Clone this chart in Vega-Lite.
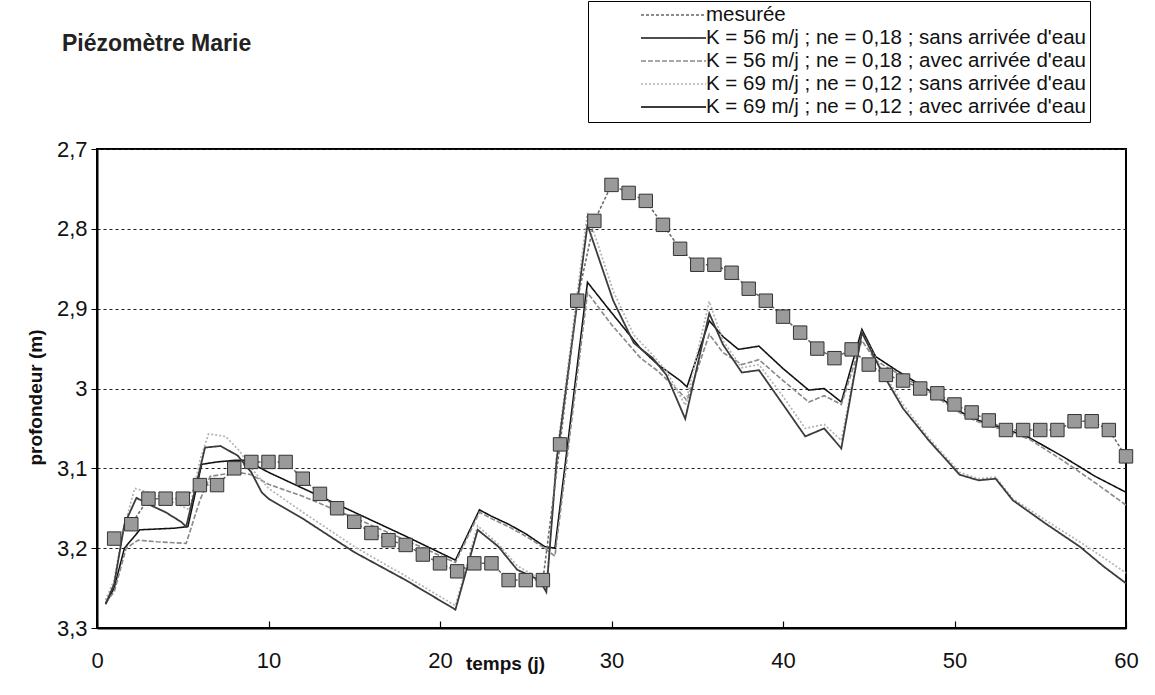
{
  "$schema": "https://vega.github.io/schema/vega-lite/v6.json",
  "width": 1029,
  "height": 479,
  "autosize": "none",
  "padding": {"left": 97, "top": 149, "right": 29, "bottom": 67},
  "background": "white",
  "title": {"text": "Piézomètre Marie", "anchor": "start", "frame": "group", "dx": -35, "offset": 0, "dy": 66, "fontSize": 23, "font": "Liberation Sans", "fontWeight": "bold", "color": "#222", "baseline": "middle"},
  "config": {"view": {"stroke": "black", "strokeWidth": 2}, "font": "Liberation Sans"},
  "datasets": {
    "mesure": [
      {"serie": "mesurée", "jour": 1, "prof": 3.188}, {"serie": "mesurée", "jour": 2, "prof": 3.17}, {"serie": "mesurée", "jour": 3, "prof": 3.138}, {"serie": "mesurée", "jour": 4, "prof": 3.138}, {"serie": "mesurée", "jour": 5, "prof": 3.138},
      {"serie": "mesurée", "jour": 6, "prof": 3.121}, {"serie": "mesurée", "jour": 7, "prof": 3.121}, {"serie": "mesurée", "jour": 8, "prof": 3.1}, {"serie": "mesurée", "jour": 9, "prof": 3.092}, {"serie": "mesurée", "jour": 10, "prof": 3.092},
      {"serie": "mesurée", "jour": 11, "prof": 3.092}, {"serie": "mesurée", "jour": 12, "prof": 3.113}, {"serie": "mesurée", "jour": 13, "prof": 3.132}, {"serie": "mesurée", "jour": 14, "prof": 3.15}, {"serie": "mesurée", "jour": 15, "prof": 3.167},
      {"serie": "mesurée", "jour": 16, "prof": 3.181}, {"serie": "mesurée", "jour": 17, "prof": 3.19}, {"serie": "mesurée", "jour": 18, "prof": 3.196}, {"serie": "mesurée", "jour": 19, "prof": 3.208}, {"serie": "mesurée", "jour": 20, "prof": 3.219},
      {"serie": "mesurée", "jour": 21, "prof": 3.229}, {"serie": "mesurée", "jour": 22, "prof": 3.219}, {"serie": "mesurée", "jour": 23, "prof": 3.219}, {"serie": "mesurée", "jour": 24, "prof": 3.24}, {"serie": "mesurée", "jour": 25, "prof": 3.24},
      {"serie": "mesurée", "jour": 26, "prof": 3.24}, {"serie": "mesurée", "jour": 27, "prof": 3.07}, {"serie": "mesurée", "jour": 28, "prof": 2.89}, {"serie": "mesurée", "jour": 29, "prof": 2.79}, {"serie": "mesurée", "jour": 30, "prof": 2.745},
      {"serie": "mesurée", "jour": 31, "prof": 2.755}, {"serie": "mesurée", "jour": 32, "prof": 2.765}, {"serie": "mesurée", "jour": 33, "prof": 2.795}, {"serie": "mesurée", "jour": 34, "prof": 2.825}, {"serie": "mesurée", "jour": 35, "prof": 2.845},
      {"serie": "mesurée", "jour": 36, "prof": 2.845}, {"serie": "mesurée", "jour": 37, "prof": 2.855}, {"serie": "mesurée", "jour": 38, "prof": 2.875}, {"serie": "mesurée", "jour": 39, "prof": 2.89}, {"serie": "mesurée", "jour": 40, "prof": 2.91},
      {"serie": "mesurée", "jour": 41, "prof": 2.93}, {"serie": "mesurée", "jour": 42, "prof": 2.95}, {"serie": "mesurée", "jour": 43, "prof": 2.962}, {"serie": "mesurée", "jour": 44, "prof": 2.951}, {"serie": "mesurée", "jour": 45, "prof": 2.97},
      {"serie": "mesurée", "jour": 46, "prof": 2.983}, {"serie": "mesurée", "jour": 47, "prof": 2.99}, {"serie": "mesurée", "jour": 48, "prof": 3.0}, {"serie": "mesurée", "jour": 49, "prof": 3.006}, {"serie": "mesurée", "jour": 50, "prof": 3.02},
      {"serie": "mesurée", "jour": 51, "prof": 3.03}, {"serie": "mesurée", "jour": 52, "prof": 3.04}, {"serie": "mesurée", "jour": 53, "prof": 3.052}, {"serie": "mesurée", "jour": 54, "prof": 3.052}, {"serie": "mesurée", "jour": 55, "prof": 3.052},
      {"serie": "mesurée", "jour": 56, "prof": 3.052}, {"serie": "mesurée", "jour": 57, "prof": 3.041}, {"serie": "mesurée", "jour": 58, "prof": 3.041}, {"serie": "mesurée", "jour": 59, "prof": 3.052}, {"serie": "mesurée", "jour": 60, "prof": 3.085}
    ],
    "modeles": [
      {"serie": "K = 56 m/j ; ne = 0,18 ; sans arrivée d'eau", "jour": 0.5, "prof": 3.27}, {"serie": "K = 56 m/j ; ne = 0,18 ; sans arrivée d'eau", "jour": 1, "prof": 3.25}, {"serie": "K = 56 m/j ; ne = 0,18 ; sans arrivée d'eau", "jour": 1.6, "prof": 3.2}, {"serie": "K = 56 m/j ; ne = 0,18 ; sans arrivée d'eau", "jour": 2.5, "prof": 3.177}, {"serie": "K = 56 m/j ; ne = 0,18 ; sans arrivée d'eau", "jour": 3.5, "prof": 3.176}, {"serie": "K = 56 m/j ; ne = 0,18 ; sans arrivée d'eau", "jour": 4.5, "prof": 3.175}, {"serie": "K = 56 m/j ; ne = 0,18 ; sans arrivée d'eau", "jour": 5.3, "prof": 3.173}, {"serie": "K = 56 m/j ; ne = 0,18 ; sans arrivée d'eau", "jour": 6.1, "prof": 3.095}, {"serie": "K = 56 m/j ; ne = 0,18 ; sans arrivée d'eau", "jour": 7, "prof": 3.092}, {"serie": "K = 56 m/j ; ne = 0,18 ; sans arrivée d'eau", "jour": 8, "prof": 3.09}, {"serie": "K = 56 m/j ; ne = 0,18 ; sans arrivée d'eau", "jour": 8.7, "prof": 3.09}, {"serie": "K = 56 m/j ; ne = 0,18 ; sans arrivée d'eau", "jour": 10, "prof": 3.105}, {"serie": "K = 56 m/j ; ne = 0,18 ; sans arrivée d'eau", "jour": 12, "prof": 3.125}, {"serie": "K = 56 m/j ; ne = 0,18 ; sans arrivée d'eau", "jour": 15, "prof": 3.155}, {"serie": "K = 56 m/j ; ne = 0,18 ; sans arrivée d'eau", "jour": 18, "prof": 3.185}, {"serie": "K = 56 m/j ; ne = 0,18 ; sans arrivée d'eau", "jour": 20.9, "prof": 3.215}, {"serie": "K = 56 m/j ; ne = 0,18 ; sans arrivée d'eau", "jour": 22.3, "prof": 3.152}, {"serie": "K = 56 m/j ; ne = 0,18 ; sans arrivée d'eau", "jour": 23, "prof": 3.16}, {"serie": "K = 56 m/j ; ne = 0,18 ; sans arrivée d'eau", "jour": 24, "prof": 3.17}, {"serie": "K = 56 m/j ; ne = 0,18 ; sans arrivée d'eau", "jour": 25, "prof": 3.182}, {"serie": "K = 56 m/j ; ne = 0,18 ; sans arrivée d'eau", "jour": 26.1, "prof": 3.198}, {"serie": "K = 56 m/j ; ne = 0,18 ; sans arrivée d'eau", "jour": 26.7, "prof": 3.2}, {"serie": "K = 56 m/j ; ne = 0,18 ; sans arrivée d'eau", "jour": 28.6, "prof": 2.867}, {"serie": "K = 56 m/j ; ne = 0,18 ; sans arrivée d'eau", "jour": 30, "prof": 2.905}, {"serie": "K = 56 m/j ; ne = 0,18 ; sans arrivée d'eau", "jour": 31.7, "prof": 2.95}, {"serie": "K = 56 m/j ; ne = 0,18 ; sans arrivée d'eau", "jour": 32.7, "prof": 2.97}, {"serie": "K = 56 m/j ; ne = 0,18 ; sans arrivée d'eau", "jour": 34, "prof": 2.99}, {"serie": "K = 56 m/j ; ne = 0,18 ; sans arrivée d'eau", "jour": 34.4, "prof": 2.998}, {"serie": "K = 56 m/j ; ne = 0,18 ; sans arrivée d'eau", "jour": 35.7, "prof": 2.915}, {"serie": "K = 56 m/j ; ne = 0,18 ; sans arrivée d'eau", "jour": 36.5, "prof": 2.935}, {"serie": "K = 56 m/j ; ne = 0,18 ; sans arrivée d'eau", "jour": 37.4, "prof": 2.951}, {"serie": "K = 56 m/j ; ne = 0,18 ; sans arrivée d'eau", "jour": 38.6, "prof": 2.947}, {"serie": "K = 56 m/j ; ne = 0,18 ; sans arrivée d'eau", "jour": 40, "prof": 2.975}, {"serie": "K = 56 m/j ; ne = 0,18 ; sans arrivée d'eau", "jour": 41.5, "prof": 3.002}, {"serie": "K = 56 m/j ; ne = 0,18 ; sans arrivée d'eau", "jour": 42.4, "prof": 3.0}, {"serie": "K = 56 m/j ; ne = 0,18 ; sans arrivée d'eau", "jour": 43.4, "prof": 3.017}, {"serie": "K = 56 m/j ; ne = 0,18 ; sans arrivée d'eau", "jour": 44.6, "prof": 2.926}, {"serie": "K = 56 m/j ; ne = 0,18 ; sans arrivée d'eau", "jour": 45.4, "prof": 2.96}, {"serie": "K = 56 m/j ; ne = 0,18 ; sans arrivée d'eau", "jour": 46.6, "prof": 2.977}, {"serie": "K = 56 m/j ; ne = 0,18 ; sans arrivée d'eau", "jour": 48.5, "prof": 3.002}, {"serie": "K = 56 m/j ; ne = 0,18 ; sans arrivée d'eau", "jour": 50.5, "prof": 3.031}, {"serie": "K = 56 m/j ; ne = 0,18 ; sans arrivée d'eau", "jour": 51.4, "prof": 3.04}, {"serie": "K = 56 m/j ; ne = 0,18 ; sans arrivée d'eau", "jour": 53.4, "prof": 3.054}, {"serie": "K = 56 m/j ; ne = 0,18 ; sans arrivée d'eau", "jour": 54.4, "prof": 3.062}, {"serie": "K = 56 m/j ; ne = 0,18 ; sans arrivée d'eau", "jour": 56.3, "prof": 3.085}, {"serie": "K = 56 m/j ; ne = 0,18 ; sans arrivée d'eau", "jour": 58.2, "prof": 3.11}, {"serie": "K = 56 m/j ; ne = 0,18 ; sans arrivée d'eau", "jour": 60, "prof": 3.13},

      {"serie": "K = 56 m/j ; ne = 0,18 ; avec arrivée d'eau", "jour": 0.5, "prof": 3.268}, {"serie": "K = 56 m/j ; ne = 0,18 ; avec arrivée d'eau", "jour": 1, "prof": 3.255}, {"serie": "K = 56 m/j ; ne = 0,18 ; avec arrivée d'eau", "jour": 1.7, "prof": 3.2}, {"serie": "K = 56 m/j ; ne = 0,18 ; avec arrivée d'eau", "jour": 2.4, "prof": 3.19}, {"serie": "K = 56 m/j ; ne = 0,18 ; avec arrivée d'eau", "jour": 3.5, "prof": 3.192}, {"serie": "K = 56 m/j ; ne = 0,18 ; avec arrivée d'eau", "jour": 5.2, "prof": 3.194}, {"serie": "K = 56 m/j ; ne = 0,18 ; avec arrivée d'eau", "jour": 6, "prof": 3.14}, {"serie": "K = 56 m/j ; ne = 0,18 ; avec arrivée d'eau", "jour": 6.6, "prof": 3.11}, {"serie": "K = 56 m/j ; ne = 0,18 ; avec arrivée d'eau", "jour": 7.5, "prof": 3.107}, {"serie": "K = 56 m/j ; ne = 0,18 ; avec arrivée d'eau", "jour": 8.2, "prof": 3.105}, {"serie": "K = 56 m/j ; ne = 0,18 ; avec arrivée d'eau", "jour": 9, "prof": 3.108}, {"serie": "K = 56 m/j ; ne = 0,18 ; avec arrivée d'eau", "jour": 10, "prof": 3.12}, {"serie": "K = 56 m/j ; ne = 0,18 ; avec arrivée d'eau", "jour": 12, "prof": 3.135}, {"serie": "K = 56 m/j ; ne = 0,18 ; avec arrivée d'eau", "jour": 15, "prof": 3.162}, {"serie": "K = 56 m/j ; ne = 0,18 ; avec arrivée d'eau", "jour": 18, "prof": 3.19}, {"serie": "K = 56 m/j ; ne = 0,18 ; avec arrivée d'eau", "jour": 20.9, "prof": 3.218}, {"serie": "K = 56 m/j ; ne = 0,18 ; avec arrivée d'eau", "jour": 22.3, "prof": 3.155}, {"serie": "K = 56 m/j ; ne = 0,18 ; avec arrivée d'eau", "jour": 23, "prof": 3.163}, {"serie": "K = 56 m/j ; ne = 0,18 ; avec arrivée d'eau", "jour": 24, "prof": 3.173}, {"serie": "K = 56 m/j ; ne = 0,18 ; avec arrivée d'eau", "jour": 25, "prof": 3.185}, {"serie": "K = 56 m/j ; ne = 0,18 ; avec arrivée d'eau", "jour": 26.1, "prof": 3.2}, {"serie": "K = 56 m/j ; ne = 0,18 ; avec arrivée d'eau", "jour": 26.7, "prof": 3.21}, {"serie": "K = 56 m/j ; ne = 0,18 ; avec arrivée d'eau", "jour": 28.6, "prof": 2.88}, {"serie": "K = 56 m/j ; ne = 0,18 ; avec arrivée d'eau", "jour": 30, "prof": 2.92}, {"serie": "K = 56 m/j ; ne = 0,18 ; avec arrivée d'eau", "jour": 31.7, "prof": 2.962}, {"serie": "K = 56 m/j ; ne = 0,18 ; avec arrivée d'eau", "jour": 32.7, "prof": 2.978}, {"serie": "K = 56 m/j ; ne = 0,18 ; avec arrivée d'eau", "jour": 34, "prof": 3.005}, {"serie": "K = 56 m/j ; ne = 0,18 ; avec arrivée d'eau", "jour": 34.4, "prof": 3.015}, {"serie": "K = 56 m/j ; ne = 0,18 ; avec arrivée d'eau", "jour": 35.7, "prof": 2.932}, {"serie": "K = 56 m/j ; ne = 0,18 ; avec arrivée d'eau", "jour": 36.5, "prof": 2.955}, {"serie": "K = 56 m/j ; ne = 0,18 ; avec arrivée d'eau", "jour": 37.6, "prof": 2.97}, {"serie": "K = 56 m/j ; ne = 0,18 ; avec arrivée d'eau", "jour": 38.6, "prof": 2.964}, {"serie": "K = 56 m/j ; ne = 0,18 ; avec arrivée d'eau", "jour": 40, "prof": 2.99}, {"serie": "K = 56 m/j ; ne = 0,18 ; avec arrivée d'eau", "jour": 41.5, "prof": 3.017}, {"serie": "K = 56 m/j ; ne = 0,18 ; avec arrivée d'eau", "jour": 42.4, "prof": 3.009}, {"serie": "K = 56 m/j ; ne = 0,18 ; avec arrivée d'eau", "jour": 43.4, "prof": 3.02}, {"serie": "K = 56 m/j ; ne = 0,18 ; avec arrivée d'eau", "jour": 44.6, "prof": 2.94}, {"serie": "K = 56 m/j ; ne = 0,18 ; avec arrivée d'eau", "jour": 45.4, "prof": 2.965}, {"serie": "K = 56 m/j ; ne = 0,18 ; avec arrivée d'eau", "jour": 46.6, "prof": 2.98}, {"serie": "K = 56 m/j ; ne = 0,18 ; avec arrivée d'eau", "jour": 48.5, "prof": 3.004}, {"serie": "K = 56 m/j ; ne = 0,18 ; avec arrivée d'eau", "jour": 50.5, "prof": 3.033}, {"serie": "K = 56 m/j ; ne = 0,18 ; avec arrivée d'eau", "jour": 51.4, "prof": 3.042}, {"serie": "K = 56 m/j ; ne = 0,18 ; avec arrivée d'eau", "jour": 53.4, "prof": 3.056}, {"serie": "K = 56 m/j ; ne = 0,18 ; avec arrivée d'eau", "jour": 54.4, "prof": 3.064}, {"serie": "K = 56 m/j ; ne = 0,18 ; avec arrivée d'eau", "jour": 56.3, "prof": 3.09}, {"serie": "K = 56 m/j ; ne = 0,18 ; avec arrivée d'eau", "jour": 58.2, "prof": 3.118}, {"serie": "K = 56 m/j ; ne = 0,18 ; avec arrivée d'eau", "jour": 60, "prof": 3.146},

      {"serie": "K = 69 m/j ; ne = 0,12 ; sans arrivée d'eau", "jour": 0.5, "prof": 3.265}, {"serie": "K = 69 m/j ; ne = 0,12 ; sans arrivée d'eau", "jour": 1, "prof": 3.24}, {"serie": "K = 69 m/j ; ne = 0,12 ; sans arrivée d'eau", "jour": 1.5, "prof": 3.18}, {"serie": "K = 69 m/j ; ne = 0,12 ; sans arrivée d'eau", "jour": 2.2, "prof": 3.125}, {"serie": "K = 69 m/j ; ne = 0,12 ; sans arrivée d'eau", "jour": 3, "prof": 3.13}, {"serie": "K = 69 m/j ; ne = 0,12 ; sans arrivée d'eau", "jour": 4, "prof": 3.138}, {"serie": "K = 69 m/j ; ne = 0,12 ; sans arrivée d'eau", "jour": 5, "prof": 3.148}, {"serie": "K = 69 m/j ; ne = 0,12 ; sans arrivée d'eau", "jour": 5.4, "prof": 3.152}, {"serie": "K = 69 m/j ; ne = 0,12 ; sans arrivée d'eau", "jour": 6, "prof": 3.09}, {"serie": "K = 69 m/j ; ne = 0,12 ; sans arrivée d'eau", "jour": 6.5, "prof": 3.057}, {"serie": "K = 69 m/j ; ne = 0,12 ; sans arrivée d'eau", "jour": 7.5, "prof": 3.06}, {"serie": "K = 69 m/j ; ne = 0,12 ; sans arrivée d'eau", "jour": 8.3, "prof": 3.078}, {"serie": "K = 69 m/j ; ne = 0,12 ; sans arrivée d'eau", "jour": 9, "prof": 3.1}, {"serie": "K = 69 m/j ; ne = 0,12 ; sans arrivée d'eau", "jour": 10, "prof": 3.125}, {"serie": "K = 69 m/j ; ne = 0,12 ; sans arrivée d'eau", "jour": 12, "prof": 3.155}, {"serie": "K = 69 m/j ; ne = 0,12 ; sans arrivée d'eau", "jour": 15, "prof": 3.198}, {"serie": "K = 69 m/j ; ne = 0,12 ; sans arrivée d'eau", "jour": 18, "prof": 3.235}, {"serie": "K = 69 m/j ; ne = 0,12 ; sans arrivée d'eau", "jour": 20.9, "prof": 3.272}, {"serie": "K = 69 m/j ; ne = 0,12 ; sans arrivée d'eau", "jour": 22.2, "prof": 3.172}, {"serie": "K = 69 m/j ; ne = 0,12 ; sans arrivée d'eau", "jour": 23.4, "prof": 3.195}, {"serie": "K = 69 m/j ; ne = 0,12 ; sans arrivée d'eau", "jour": 24.5, "prof": 3.222}, {"serie": "K = 69 m/j ; ne = 0,12 ; sans arrivée d'eau", "jour": 25.8, "prof": 3.238}, {"serie": "K = 69 m/j ; ne = 0,12 ; sans arrivée d'eau", "jour": 26.2, "prof": 3.25}, {"serie": "K = 69 m/j ; ne = 0,12 ; sans arrivée d'eau", "jour": 26.8, "prof": 3.085}, {"serie": "K = 69 m/j ; ne = 0,12 ; sans arrivée d'eau", "jour": 28.6, "prof": 2.78}, {"serie": "K = 69 m/j ; ne = 0,12 ; sans arrivée d'eau", "jour": 30.1, "prof": 2.878}, {"serie": "K = 69 m/j ; ne = 0,12 ; sans arrivée d'eau", "jour": 31.3, "prof": 2.933}, {"serie": "K = 69 m/j ; ne = 0,12 ; sans arrivée d'eau", "jour": 32.4, "prof": 2.958}, {"serie": "K = 69 m/j ; ne = 0,12 ; sans arrivée d'eau", "jour": 33.2, "prof": 2.978}, {"serie": "K = 69 m/j ; ne = 0,12 ; sans arrivée d'eau", "jour": 34.3, "prof": 3.021}, {"serie": "K = 69 m/j ; ne = 0,12 ; sans arrivée d'eau", "jour": 35.7, "prof": 2.891}, {"serie": "K = 69 m/j ; ne = 0,12 ; sans arrivée d'eau", "jour": 36.5, "prof": 2.94}, {"serie": "K = 69 m/j ; ne = 0,12 ; sans arrivée d'eau", "jour": 37.6, "prof": 2.974}, {"serie": "K = 69 m/j ; ne = 0,12 ; sans arrivée d'eau", "jour": 38.6, "prof": 2.97}, {"serie": "K = 69 m/j ; ne = 0,12 ; sans arrivée d'eau", "jour": 40, "prof": 3.01}, {"serie": "K = 69 m/j ; ne = 0,12 ; sans arrivée d'eau", "jour": 41.3, "prof": 3.05}, {"serie": "K = 69 m/j ; ne = 0,12 ; sans arrivée d'eau", "jour": 42.4, "prof": 3.045}, {"serie": "K = 69 m/j ; ne = 0,12 ; sans arrivée d'eau", "jour": 43.4, "prof": 3.065}, {"serie": "K = 69 m/j ; ne = 0,12 ; sans arrivée d'eau", "jour": 44.6, "prof": 2.93}, {"serie": "K = 69 m/j ; ne = 0,12 ; sans arrivée d'eau", "jour": 45.8, "prof": 2.978}, {"serie": "K = 69 m/j ; ne = 0,12 ; sans arrivée d'eau", "jour": 47, "prof": 3.02}, {"serie": "K = 69 m/j ; ne = 0,12 ; sans arrivée d'eau", "jour": 48.5, "prof": 3.062}, {"serie": "K = 69 m/j ; ne = 0,12 ; sans arrivée d'eau", "jour": 50.3, "prof": 3.105}, {"serie": "K = 69 m/j ; ne = 0,12 ; sans arrivée d'eau", "jour": 51.4, "prof": 3.113}, {"serie": "K = 69 m/j ; ne = 0,12 ; sans arrivée d'eau", "jour": 52.4, "prof": 3.111}, {"serie": "K = 69 m/j ; ne = 0,12 ; sans arrivée d'eau", "jour": 53.4, "prof": 3.138}, {"serie": "K = 69 m/j ; ne = 0,12 ; sans arrivée d'eau", "jour": 55.3, "prof": 3.165}, {"serie": "K = 69 m/j ; ne = 0,12 ; sans arrivée d'eau", "jour": 57.3, "prof": 3.192}, {"serie": "K = 69 m/j ; ne = 0,12 ; sans arrivée d'eau", "jour": 58.7, "prof": 3.212}, {"serie": "K = 69 m/j ; ne = 0,12 ; sans arrivée d'eau", "jour": 60, "prof": 3.231},

      {"serie": "K = 69 m/j ; ne = 0,12 ; avec arrivée d'eau", "jour": 0.5, "prof": 3.27}, {"serie": "K = 69 m/j ; ne = 0,12 ; avec arrivée d'eau", "jour": 1, "prof": 3.245}, {"serie": "K = 69 m/j ; ne = 0,12 ; avec arrivée d'eau", "jour": 1.6, "prof": 3.17}, {"serie": "K = 69 m/j ; ne = 0,12 ; avec arrivée d'eau", "jour": 2.3, "prof": 3.137}, {"serie": "K = 69 m/j ; ne = 0,12 ; avec arrivée d'eau", "jour": 3, "prof": 3.145}, {"serie": "K = 69 m/j ; ne = 0,12 ; avec arrivée d'eau", "jour": 4, "prof": 3.155}, {"serie": "K = 69 m/j ; ne = 0,12 ; avec arrivée d'eau", "jour": 4.9, "prof": 3.167}, {"serie": "K = 69 m/j ; ne = 0,12 ; avec arrivée d'eau", "jour": 5.2, "prof": 3.173}, {"serie": "K = 69 m/j ; ne = 0,12 ; avec arrivée d'eau", "jour": 6.3, "prof": 3.074}, {"serie": "K = 69 m/j ; ne = 0,12 ; avec arrivée d'eau", "jour": 7.2, "prof": 3.072}, {"serie": "K = 69 m/j ; ne = 0,12 ; avec arrivée d'eau", "jour": 8.2, "prof": 3.084}, {"serie": "K = 69 m/j ; ne = 0,12 ; avec arrivée d'eau", "jour": 9, "prof": 3.105}, {"serie": "K = 69 m/j ; ne = 0,12 ; avec arrivée d'eau", "jour": 9.6, "prof": 3.13}, {"serie": "K = 69 m/j ; ne = 0,12 ; avec arrivée d'eau", "jour": 10, "prof": 3.138}, {"serie": "K = 69 m/j ; ne = 0,12 ; avec arrivée d'eau", "jour": 12, "prof": 3.163}, {"serie": "K = 69 m/j ; ne = 0,12 ; avec arrivée d'eau", "jour": 15, "prof": 3.205}, {"serie": "K = 69 m/j ; ne = 0,12 ; avec arrivée d'eau", "jour": 18, "prof": 3.24}, {"serie": "K = 69 m/j ; ne = 0,12 ; avec arrivée d'eau", "jour": 20.9, "prof": 3.277}, {"serie": "K = 69 m/j ; ne = 0,12 ; avec arrivée d'eau", "jour": 22.2, "prof": 3.177}, {"serie": "K = 69 m/j ; ne = 0,12 ; avec arrivée d'eau", "jour": 23.4, "prof": 3.198}, {"serie": "K = 69 m/j ; ne = 0,12 ; avec arrivée d'eau", "jour": 24.5, "prof": 3.227}, {"serie": "K = 69 m/j ; ne = 0,12 ; avec arrivée d'eau", "jour": 25.8, "prof": 3.24}, {"serie": "K = 69 m/j ; ne = 0,12 ; avec arrivée d'eau", "jour": 26.2, "prof": 3.255}, {"serie": "K = 69 m/j ; ne = 0,12 ; avec arrivée d'eau", "jour": 26.8, "prof": 3.09}, {"serie": "K = 69 m/j ; ne = 0,12 ; avec arrivée d'eau", "jour": 28.6, "prof": 2.795}, {"serie": "K = 69 m/j ; ne = 0,12 ; avec arrivée d'eau", "jour": 30.1, "prof": 2.89}, {"serie": "K = 69 m/j ; ne = 0,12 ; avec arrivée d'eau", "jour": 31.3, "prof": 2.943}, {"serie": "K = 69 m/j ; ne = 0,12 ; avec arrivée d'eau", "jour": 32.4, "prof": 2.962}, {"serie": "K = 69 m/j ; ne = 0,12 ; avec arrivée d'eau", "jour": 33.2, "prof": 2.983}, {"serie": "K = 69 m/j ; ne = 0,12 ; avec arrivée d'eau", "jour": 34.3, "prof": 3.038}, {"serie": "K = 69 m/j ; ne = 0,12 ; avec arrivée d'eau", "jour": 35.7, "prof": 2.906}, {"serie": "K = 69 m/j ; ne = 0,12 ; avec arrivée d'eau", "jour": 36.5, "prof": 2.945}, {"serie": "K = 69 m/j ; ne = 0,12 ; avec arrivée d'eau", "jour": 37.6, "prof": 2.98}, {"serie": "K = 69 m/j ; ne = 0,12 ; avec arrivée d'eau", "jour": 38.6, "prof": 2.977}, {"serie": "K = 69 m/j ; ne = 0,12 ; avec arrivée d'eau", "jour": 40, "prof": 3.02}, {"serie": "K = 69 m/j ; ne = 0,12 ; avec arrivée d'eau", "jour": 41.3, "prof": 3.06}, {"serie": "K = 69 m/j ; ne = 0,12 ; avec arrivée d'eau", "jour": 42.4, "prof": 3.05}, {"serie": "K = 69 m/j ; ne = 0,12 ; avec arrivée d'eau", "jour": 43.4, "prof": 3.075}, {"serie": "K = 69 m/j ; ne = 0,12 ; avec arrivée d'eau", "jour": 44.6, "prof": 2.93}, {"serie": "K = 69 m/j ; ne = 0,12 ; avec arrivée d'eau", "jour": 45.8, "prof": 2.981}, {"serie": "K = 69 m/j ; ne = 0,12 ; avec arrivée d'eau", "jour": 47, "prof": 3.025}, {"serie": "K = 69 m/j ; ne = 0,12 ; avec arrivée d'eau", "jour": 48.5, "prof": 3.065}, {"serie": "K = 69 m/j ; ne = 0,12 ; avec arrivée d'eau", "jour": 50.3, "prof": 3.108}, {"serie": "K = 69 m/j ; ne = 0,12 ; avec arrivée d'eau", "jour": 51.4, "prof": 3.115}, {"serie": "K = 69 m/j ; ne = 0,12 ; avec arrivée d'eau", "jour": 52.4, "prof": 3.113}, {"serie": "K = 69 m/j ; ne = 0,12 ; avec arrivée d'eau", "jour": 53.4, "prof": 3.14}, {"serie": "K = 69 m/j ; ne = 0,12 ; avec arrivée d'eau", "jour": 55.3, "prof": 3.169}, {"serie": "K = 69 m/j ; ne = 0,12 ; avec arrivée d'eau", "jour": 57.3, "prof": 3.198}, {"serie": "K = 69 m/j ; ne = 0,12 ; avec arrivée d'eau", "jour": 58.7, "prof": 3.223}, {"serie": "K = 69 m/j ; ne = 0,12 ; avec arrivée d'eau", "jour": 60, "prof": 3.244}
    ]
  },
  "encoding": {
    "x": {
      "field": "jour", "type": "quantitative",
      "scale": {"domain": [0, 60], "nice": false, "zero": false},
      "axis": {"values": [0, 10, 20, 30, 40, 50, 60], "grid": false, "title": "temps (j)",
        "domainColor": "black", "domainWidth": 2, "tickColor": "black", "tickSize": -7, "tickWidth": 1.2,
        "labelFontSize": 22, "labelColor": "#111", "labelPadding": 29, "labelFlush": false, "labelFont": "Liberation Sans",
        "titleFontSize": 19, "titleFontWeight": "bold", "titleColor": "#111", "titleX": 408, "titleY": 35, "titleAlign": "center", "titleBaseline": "middle", "titleFont": "Liberation Sans"}
    },
    "y": {
      "field": "prof", "type": "quantitative",
      "scale": {"domain": [2.7, 3.3], "reverse": true, "nice": false, "zero": false},
      "axis": {"values": [2.7, 2.8, 2.9, 3, 3.1, 3.2, 3.3], "labelExpr": "replace(toString(datum.value), '.', ',')",
        "grid": true, "gridDash": [3, 3], "gridColor": "#222", "gridWidth": 1,
        "domainColor": "black", "domainWidth": 2, "tickColor": "black", "tickSize": 6,
        "labelFontSize": 22, "labelColor": "#111", "labelPadding": 4, "labelFont": "Liberation Sans",
        "title": "profondeur (m)", "titleFontSize": 19, "titleFontWeight": "bold", "titleColor": "#111", "titleFont": "Liberation Sans",
        "titleX": -62, "titleY": 248, "titleAngle": -90, "titleAlign": "center", "titleBaseline": "middle"}
    }
  },
  "layer": [
    {
      "data": {"name": "modeles"},
      "mark": {"type": "line", "interpolate": "linear"},
      "encoding": {
        "color": {"field": "serie", "type": "nominal",
          "scale": {"domain": ["mesurée", "K = 56 m/j ; ne = 0,18 ; sans arrivée d'eau", "K = 56 m/j ; ne = 0,18 ; avec arrivée d'eau", "K = 69 m/j ; ne = 0,12 ; sans arrivée d'eau", "K = 69 m/j ; ne = 0,12 ; avec arrivée d'eau"],
                    "range": ["#666666", "#111111", "#8a8a8a", "#b4b4b4", "#3c3c3c"]},
          "legend": {"title": null, "orient": "none", "legendX": 491, "legendY": -148, "symbolType": "M-2,0H2", "symbolSize": 1056, "symbolOffset": 64,
            "labelFontSize": 20.5, "labelColor": "#111", "labelFont": "Liberation Sans", "strokeColor": "black", "fillColor": "white", "padding": 4, "rowPadding": 2, "clipHeight": 20, "labelOffset": 15, "labelLimit": 600}},
        "strokeDash": {"field": "serie", "type": "nominal",
          "scale": {"domain": ["mesurée", "K = 56 m/j ; ne = 0,18 ; sans arrivée d'eau", "K = 56 m/j ; ne = 0,18 ; avec arrivée d'eau", "K = 69 m/j ; ne = 0,12 ; sans arrivée d'eau", "K = 69 m/j ; ne = 0,12 ; avec arrivée d'eau"],
                    "range": [[3, 2], [1, 0], [5, 2], [2, 2], [1, 0]]}},
        "strokeWidth": {"field": "serie", "type": "nominal",
          "scale": {"domain": ["mesurée", "K = 56 m/j ; ne = 0,18 ; sans arrivée d'eau", "K = 56 m/j ; ne = 0,18 ; avec arrivée d'eau", "K = 69 m/j ; ne = 0,12 ; sans arrivée d'eau", "K = 69 m/j ; ne = 0,12 ; avec arrivée d'eau"],
                    "range": [1.5, 1.8, 2.5, 1.5, 3]}}
      }
    },
    {
      "data": {"name": "mesure"},
      "mark": {"type": "line"},
      "encoding": {
        "color": {"field": "serie", "type": "nominal"},
        "strokeDash": {"field": "serie", "type": "nominal"},
        "strokeWidth": {"field": "serie", "type": "nominal"}
      }
    },
    {
      "data": {"name": "mesure"},
      "mark": {"type": "point", "shape": "square", "filled": true, "size": 180, "fill": "#9a9a9a", "stroke": "#333333", "strokeWidth": 1, "opacity": 1}
    }
  ]
}
